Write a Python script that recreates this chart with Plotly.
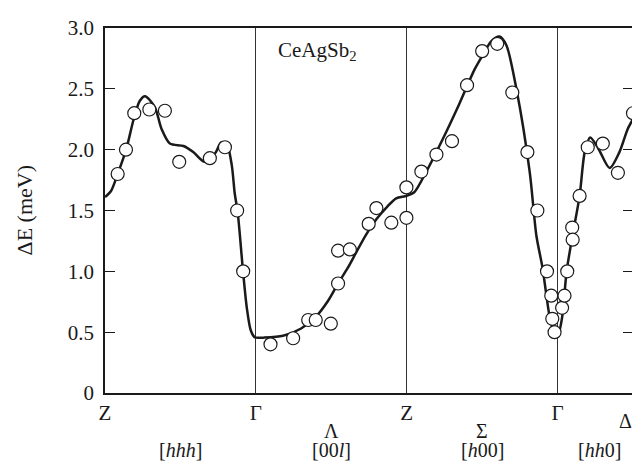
import plotly.graph_objects as go

# Symmetry points along the path (position along path, label)
SYM_POS = [0, 1, 2, 3]
SYM_LABELS = ["Z", "Γ", "Z", "Γ"]

# Direction labels (position, line-1 label, line-2 label)
DIR_POS = [0.5, 1.5, 2.5, 3.28]
DIR_NAMES = ["", "Λ", "Σ", ""]
DIR_BRACKETS = ["[<i>hhh</i>]", "[00<i>l</i>]", "[<i>h</i>00]", "[<i>hh</i>0]"]
END_POS = 3.5
END_LABEL = "Δ"

Y_TICKS = [0, 0.5, 1.0, 1.5, 2.0, 2.5, 3.0]
Y_TICKTEXT = ["0", "0.5", "1.0", "1.5", "2.0", "2.5", "3.0"]

# Measured excitation energies (open circles)
OBS_X = [0.084, 0.139, 0.194, 0.294, 0.397, 0.492, 0.695, 0.795, 0.876, 0.916,
         1.097, 1.247, 1.347, 1.397, 1.497, 1.545, 1.545, 1.623, 1.748, 1.799,
         1.898, 1.998, 1.998,
         2.097, 2.197, 2.30, 2.40, 2.50, 2.60, 2.70, 2.80, 2.866, 2.93, 2.958,
         2.965, 2.98,
         3.03, 3.046, 3.064, 3.097, 3.10, 3.146, 3.20, 3.30, 3.40, 3.50]
OBS_Y = [1.80, 2.00, 2.30, 2.33, 2.32, 1.90, 1.93, 2.02, 1.50, 1.00,
         0.40, 0.45, 0.60, 0.60, 0.57, 0.90, 1.17, 1.18, 1.39, 1.52,
         1.40, 1.44, 1.69,
         1.82, 1.96, 2.07, 2.53, 2.81, 2.87, 2.47, 1.98, 1.50, 1.00, 0.80,
         0.61, 0.50,
         0.70, 0.80, 1.00, 1.36, 1.26, 1.62, 2.02, 2.05, 1.81, 2.30]

# Calculated dispersion (solid curve)
CURVE_X = [0.0, 0.04, 0.084, 0.14, 0.19, 0.23, 0.265, 0.33, 0.375, 0.43, 0.52,
           0.585, 0.66, 0.73, 0.77, 0.806, 0.84, 0.86, 0.88, 0.915, 0.94, 0.965,
           0.99, 1.0,
           1.05, 1.18, 1.30, 1.40, 1.48, 1.545, 1.61, 1.667, 1.73, 1.80, 1.87,
           1.93, 2.0,
           2.05, 2.13, 2.24, 2.35, 2.45, 2.505, 2.56, 2.615, 2.66, 2.73, 2.815,
           2.86, 2.90, 2.947, 2.975, 3.0,
           3.03, 3.06, 3.10, 3.146, 3.18, 3.216, 3.27, 3.345, 3.41, 3.465, 3.5]
CURVE_Y = [1.61, 1.66, 1.80, 2.00, 2.25, 2.40, 2.44, 2.35, 2.17, 2.05, 2.03,
           1.98, 1.90, 1.97, 2.06, 2.05, 1.875, 1.64, 1.48, 1.00, 0.70, 0.52,
           0.46, 0.455,
           0.455, 0.47, 0.53, 0.63, 0.76, 0.90, 1.03, 1.16, 1.30, 1.43, 1.53,
           1.60, 1.62,
           1.65, 1.82, 2.09, 2.38, 2.66, 2.78, 2.89, 2.93, 2.86, 2.48, 1.82,
           1.29, 1.03, 0.63, 0.50, 0.47,
           0.62, 1.00, 1.30, 1.62, 1.98, 2.10, 2.01, 1.85, 1.98, 2.17, 2.25]

FONT = "Liberation Serif"

fig = go.Figure()
fig.add_trace(go.Scatter(
    x=CURVE_X, y=CURVE_Y, mode="lines",
    line=dict(color="#1a1a1a", width=2.5, shape="spline", smoothing=0.8),
    showlegend=False, hoverinfo="skip"))
fig.add_trace(go.Scatter(
    x=OBS_X, y=OBS_Y, mode="markers",
    marker=dict(symbol="circle", size=13, color="white",
                line=dict(color="#1a1a1a", width=1.2)),
    cliponaxis=False, showlegend=False))

ann = []
for p, n in zip(DIR_POS, DIR_NAMES):
    if n:
        ann.append(dict(x=p, y=0, xref="x", yref="paper", text=n, showarrow=False,
                        yanchor="middle", yshift=-38, font=dict(size=20)))
for p, b in zip(DIR_POS, DIR_BRACKETS):
    ann.append(dict(x=p, y=0, xref="x", yref="paper", text=b, showarrow=False,
                    yanchor="middle", yshift=-57, font=dict(size=20)))
ann.append(dict(x=END_POS, y=0, xref="x", yref="paper", text=END_LABEL,
                showarrow=False, yanchor="middle", xanchor="center", yshift=-28,
                xshift=-8, font=dict(size=20)))
ann.append(dict(x=1.41, y=2.78, xref="x", yref="y", text="CeAgSb<sub>2</sub>",
                showarrow=False, yshift=4, font=dict(size=21)))
ann.append(dict(x=0, y=0.5, xref="paper", yref="paper", text="ΔE (meV)",
                textangle=-90, showarrow=False, xanchor="center", yanchor="middle",
                xshift=-81, font=dict(size=22)))

fig.update_layout(
    width=640, height=465,
    margin=dict(l=97, r=15, t=8, b=80),
    paper_bgcolor="white", plot_bgcolor="white",
    font=dict(family=FONT, color="#1a1a1a", size=21),
    annotations=ann,
    xaxis=dict(range=[0, END_POS], tickvals=SYM_POS, ticktext=SYM_LABELS,
               showgrid=True, gridcolor="#333333", gridwidth=1, zeroline=False,
               showline=True, linecolor="#1a1a1a", linewidth=1.5, mirror=True,
               ticks="", tickfont=dict(size=21), ticklabeloverflow="allow"),
    yaxis=dict(range=[0, 3.0], tickvals=Y_TICKS, ticktext=Y_TICKTEXT,
               showgrid=False, zeroline=False, showline=True,
               linecolor="#1a1a1a", linewidth=1.5, mirror="ticks",
               ticks="inside", ticklen=10, tickwidth=1.2, tickcolor="#1a1a1a",
               ticklabelstandoff=5, tickfont=dict(size=21),
               ticklabeloverflow="allow"),
)

fig.write_html("out.html")
